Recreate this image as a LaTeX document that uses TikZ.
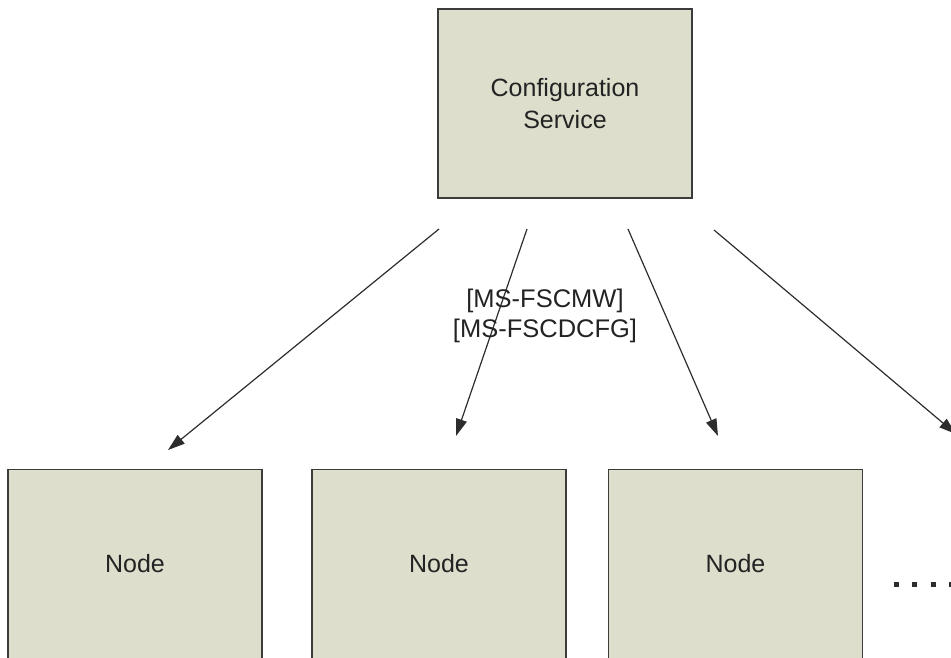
\documentclass[tikz,border=0pt]{standalone}
\usepackage{fontspec}
\setmainfont{Liberation Sans}
\usetikzlibrary{arrows.meta}
\definecolor{boxfill}{RGB}{221,223,204}
\definecolor{boxline}{RGB}{60,60,60}
\definecolor{txt}{RGB}{35,35,35}
\definecolor{arr}{RGB}{45,45,45}
\tikzset{
  box/.style={draw=boxline, fill=boxfill, line width=1.6pt, minimum width=254pt, minimum height=189pt,
    inner sep=0pt, text=txt, align=center, font=\fontsize{25}{32}\selectfont},
  conn/.style={draw=arr, line width=1.2pt, -{Triangle[length=17pt,width=11pt]}},
  lbl/.style={text=txt, align=center, font=\fontsize{25.5}{30}\selectfont, inner sep=0pt}
}
\begin{document}
\begin{tikzpicture}[x=1pt,y=-1pt]
\useasboundingbox (0,0) rectangle (951,658);
\clip (0,0) rectangle (951,658);
\node[box] (cfg) at (565,103.5) {Configuration\\Service};
\node[box] (n1) at (135,564) {Node};
\node[box] (n2) at (439,564) {Node};
\node[box] (n3) at (735.5,564) {Node};
\coordinate (s1) at (439,229);
\coordinate (s2) at (527,229);
\coordinate (s3) at (628,229);
\coordinate (s4) at (714,230);
\coordinate (e1) at (168,450);
\coordinate (e2) at (456,436);
\coordinate (e3) at (718,436);
\coordinate (e4) at (956,434);
\draw[conn] (s1) -- (e1);
\draw[conn] (s2) -- (e2);
\draw[conn] (s3) -- (e3);
\draw[conn] (s4) -- (e4);
\node[lbl] (lab) at (545,316) {[MS-FSCMW]\\{}[MS-FSCDCFG]};
\draw[arr, line width=5pt, dash pattern=on 5pt off 13.5pt] (893.5,584) -- (960,584);
\end{tikzpicture}
\end{document}
